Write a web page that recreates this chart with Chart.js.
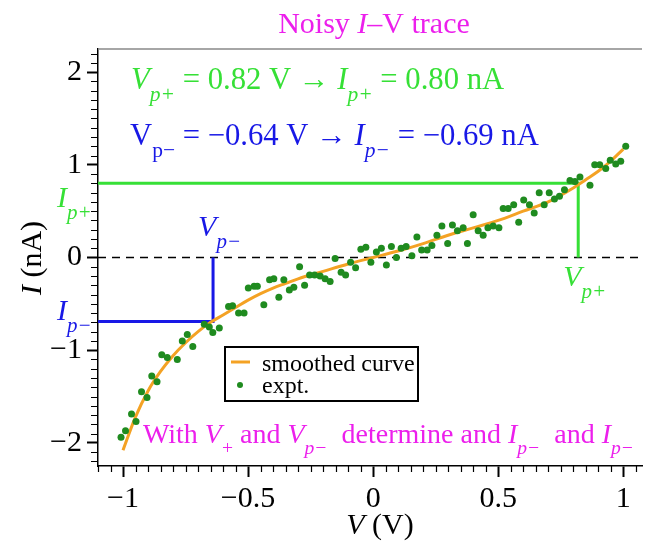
<!DOCTYPE html>
<html>
<head>
<meta charset="utf-8">
<script src="https://cdn.jsdelivr.net/npm/chart.js@4.4.0/dist/chart.umd.min.js"></script>
<style>
  html, body { margin: 0; padding: 0; background: #fff; overflow: hidden; }
  #wrap { position: relative; width: 646px; height: 543px; }
</style>
</head>
<body>
<div id="wrap"><canvas id="ivChart" width="646" height="543"></canvas></div>
<script>
// ── DATA ──────────────────────────────────────────────────────────────
const curveV = [-1.0, -0.95, -0.9, -0.85, -0.8, -0.75, -0.7, -0.65, -0.6, -0.55, -0.5, -0.45, -0.4, -0.35, -0.3,
                -0.2, -0.1, 0, 0.1, 0.2, 0.3, 0.4, 0.5, 0.6, 0.7, 0.8, 0.85, 0.9, 0.95, 1.0];
const curveI = [-2.08, -1.72, -1.44, -1.23, -1.06, -0.92, -0.80, -0.70, -0.62, -0.54, -0.46, -0.39, -0.33, -0.28, -0.23,
                -0.15, -0.07, 0, 0.07, 0.15, 0.24, 0.32, 0.40, 0.50, 0.60, 0.75, 0.84, 0.93, 1.04, 1.17];

const exptV = [-1.008, -0.99, -0.966, -0.948, -0.926, -0.904, -0.885, -0.864, -0.845, -0.823, -0.783, -0.763, -0.743, -0.721,
               -0.675, -0.655, -0.641, -0.615, -0.578, -0.562, -0.538, -0.516, -0.499, -0.476, -0.463, -0.437, -0.414, -0.397,
               -0.377, -0.357, -0.335, -0.317, -0.294, -0.274, -0.254, -0.234, -0.212, -0.192, -0.172, -0.152, -0.128, -0.110,
               -0.09, -0.07, -0.049, -0.029, -0.009, 0.013, 0.033, 0.053, 0.073, 0.093, 0.112, 0.132, 0.155, 0.175, 0.194,
               0.216, 0.235, 0.255, 0.275, 0.298, 0.317, 0.337, 0.36, 0.377, 0.40, 0.42, 0.44, 0.459, 0.48, 0.503, 0.52, 0.54,
               0.562, 0.582, 0.602, 0.625, 0.644, 0.664, 0.684, 0.704, 0.725, 0.745, 0.765, 0.787, 0.807, 0.827, 0.867, 0.886,
               0.906, 0.93, 0.948, 0.97, 0.99, 1.01];
const exptI = [-1.94, -1.87, -1.69, -1.77, -1.45, -1.51, -1.28, -1.34, -1.05, -1.08, -1.10, -0.90, -0.83, -0.96,
               -0.72, -0.75, -0.81, -0.76, -0.53, -0.52, -0.60, -0.60, -0.33, -0.31, -0.31, -0.51, -0.24, -0.23,
               -0.43, -0.24, -0.35, -0.32, -0.10, -0.30, -0.19, -0.19, -0.20, -0.23, -0.26, -0.01, -0.16, -0.19,
               -0.05, -0.11, 0.09, 0.11, -0.05, 0.06, 0.10, -0.08, 0.12, 0.00, 0.10, 0.12, 0.02, 0.22, 0.08,
               0.08, 0.13, 0.24, 0.34, 0.15, 0.35, 0.29, 0.32, 0.15, 0.46, 0.29, 0.24, 0.32, 0.34, 0.32, 0.53, 0.53,
               0.57, 0.38, 0.62, 0.57, 0.48, 0.70, 0.57, 0.70, 0.63, 0.66, 0.73, 0.83, 0.82, 0.87, 0.78, 1.00,
               1.00, 0.96, 1.05, 1.01, 1.04, 1.20];

const xTicks = [-1, -0.5, 0, 0.5, 1];
const yTicks = [-2, -1, 0, 1, 2];

const vpPlus = 0.82, ipPlus = 0.80;
const vpMinus = -0.64, ipMinus = -0.69;

const xMin = -1.1, xMax = 1.075, yMin = -2.25, yMax = 2.25;

// ── STYLE ─────────────────────────────────────────────────────────────
const SERIF = '"Liberation Serif", "Times New Roman", serif';
const GREEN = '#36e036', BLUE = '#1818e6', MAGENTA = '#ec1fec', ORANGE = '#f4a224', DOT = '#1f8b1f';
const MINUS = '\u2212';

function fmtTick(v) {
  return v < 0 ? MINUS + Math.abs(v) : String(v);
}
function fmtNum(v) {
  return (v < 0 ? MINUS : '') + Math.abs(v).toFixed(2);
}

// rich text: parts = [[text, style]], style 'i' italic, 's' subscript
function partFont(p, size) {
  const st = p[1] || '';
  const sz = st.includes('s') ? size * 0.7 : size;
  return (st.includes('i') ? 'italic ' : '') + sz + 'px ' + SERIF;
}
function richWidth(ctx, parts, size) {
  let w = 0;
  parts.forEach(p => { ctx.font = partFont(p, size); w += ctx.measureText(p[0]).width; });
  return w;
}
function drawRich(ctx, parts, x, y, size, color, align) {
  ctx.save();
  ctx.fillStyle = color;
  ctx.textBaseline = 'alphabetic';
  ctx.textAlign = 'left';
  let cx = x;
  const w = richWidth(ctx, parts, size);
  if (align === 'center') cx -= w / 2;
  if (align === 'right') cx -= w;
  parts.forEach(p => {
    const st = p[1] || '';
    ctx.font = partFont(p, size);
    ctx.fillText(p[0], cx, y + (st.includes('s') ? size * 0.4 : 0));
    cx += ctx.measureText(p[0]).width;
  });
  ctx.restore();
}

const decor = {
  id: 'decor',
  afterDraw(chart) {
    const { ctx, chartArea: a, scales: { x, y } } = chart;

    // top frame line
    ctx.save();
    ctx.strokeStyle = '#888';
    ctx.lineWidth = 1.5;
    ctx.beginPath();
    ctx.moveTo(a.left, a.top);
    ctx.lineTo(a.right, a.top);
    ctx.stroke();

    // minor ticks
    ctx.strokeStyle = '#000';
    ctx.lineWidth = 1.2;
    ctx.beginPath();
    for (let k = -22; k <= 22; k++) {
      const v = k * 0.05;
      if (v < xMin - 1e-9 || v > xMax) continue;
      if (Math.abs(v * 2 - Math.round(v * 2)) < 1e-9) continue;
      const px = Math.round(x.getPixelForValue(v)) + 0.5;
      ctx.moveTo(px, a.bottom);
      ctx.lineTo(px, a.bottom + 6);
    }
    for (let k = -22; k <= 22; k++) {
      const v = k * 0.1;
      if (Math.abs(v - Math.round(v)) < 1e-9) continue;
      const py = Math.round(y.getPixelForValue(v)) + 0.5;
      ctx.moveTo(a.left, py);
      ctx.lineTo(a.left - 7, py);
    }
    ctx.stroke();
    ctx.restore();

    // title
    drawRich(ctx, [['Noisy ', ''], ['I', 'i'], ['\u2013V trace', '']], 374, 33, 30, MAGENTA, 'center');

    // result lines
    drawRich(ctx, [['V', 'i'], ['p+', 'si'], [' = ' + fmtNum(vpPlus) + ' V \u2192 ', ''], ['I', 'i'], ['p+', 'si'],
                   [' = ' + fmtNum(ipPlus) + ' nA', '']], 131, 89, 30.7, GREEN, 'left');
    drawRich(ctx, [['V', ''], ['p' + MINUS, 's'], [' = ' + fmtNum(vpMinus) + ' V \u2192 ', ''], ['I', 'i'], ['p' + MINUS, 'si'],
                   [' = ' + fmtNum(ipMinus) + ' nA', '']], 130, 145, 30.7, BLUE, 'left');

    // marker labels
    const xp = x.getPixelForValue(vpPlus), xm = x.getPixelForValue(vpMinus);
    const yp = y.getPixelForValue(ipPlus), ym = y.getPixelForValue(ipMinus), y0 = y.getPixelForValue(0);
    drawRich(ctx, [['I', 'i'], ['p+', 'si']], 57, yp + 24, 30, GREEN, 'left');
    drawRich(ctx, [['I', 'i'], ['p' + MINUS, 'si']], 57, ym - 1, 30, BLUE, 'left');
    drawRich(ctx, [['V', 'i'], ['p' + MINUS, 'si']], xm - 15, y0 - 22, 30, BLUE, 'left');
    drawRich(ctx, [['V', 'i'], ['p+', 'si']], xp - 15, y0 + 28, 30, GREEN, 'left');

    // bottom note
    drawRich(ctx, [['With ', ''], ['V', 'i'], ['+', 's'], [' and ', ''], ['V', 'i'], ['p' + MINUS, 'si'],
                   ['  determine and ', ''], ['I', 'i'], ['p' + MINUS, 'si'], ['  and ', ''], ['I', 'i'], ['p' + MINUS, 'si']],
             143, 443, 28, MAGENTA, 'left');

    // axis titles
    drawRich(ctx, [['V', 'i'], [' (V)', '']], 380, 534, 30, '#000', 'center');
    ctx.save();
    ctx.translate(41, 258);
    ctx.rotate(-Math.PI / 2);
    drawRich(ctx, [['I', 'i'], [' (nA)', '']], 0, 0, 30, '#000', 'center');
    ctx.restore();

    // legend
    const ds = chart.data.datasets;
    ctx.save();
    ctx.fillStyle = '#fff';
    ctx.fillRect(225, 347, 193, 54);
    ctx.strokeStyle = '#000';
    ctx.lineWidth = 2;
    ctx.strokeRect(225, 347, 193, 54);
    ctx.strokeStyle = ds[1].borderColor;
    ctx.lineWidth = 3;
    ctx.beginPath();
    ctx.moveTo(231, 362);
    ctx.lineTo(250, 362);
    ctx.stroke();
    ctx.fillStyle = ds[0].backgroundColor;
    ctx.beginPath();
    ctx.arc(240, 385, 3, 0, Math.PI * 2);
    ctx.fill();
    ctx.restore();
    drawRich(ctx, [[ds[1].label, '']], 262, 371, 24, '#000', 'left');
    drawRich(ctx, [[ds[0].label, '']], 262, 393, 24, '#000', 'left');
  }
};

const axisBase = {
  type: 'linear',
  grid: { drawOnChartArea: false, drawTicks: true, tickLength: 11, tickColor: '#000', tickWidth: 2 },
  border: { display: true, color: '#000', width: 1.5 },
};

new Chart(document.getElementById('ivChart'), {
  type: 'scatter',
  data: {
    datasets: [
      {
        label: 'expt.',
        data: exptV.map((v, i) => ({ x: v, y: exptI[i] })),
        backgroundColor: DOT, borderColor: DOT,
        pointRadius: 3.5, pointBorderWidth: 0, showLine: false, order: 0
      },
      {
        label: 'smoothed curve',
        data: curveV.map((v, i) => ({ x: v, y: curveI[i] })),
        borderColor: ORANGE, borderWidth: 3, pointRadius: 0,
        showLine: true, cubicInterpolationMode: 'monotone', order: 1
      },
      {
        label: 'Vp+',
        data: [{ x: xMin, y: ipPlus }, { x: vpPlus, y: ipPlus }, { x: vpPlus, y: 0 }],
        borderColor: GREEN, borderWidth: 3, pointRadius: 0, showLine: true, order: 2
      },
      {
        label: 'Vp-',
        data: [{ x: xMin, y: ipMinus }, { x: vpMinus, y: ipMinus }, { x: vpMinus, y: 0 }],
        borderColor: BLUE, borderWidth: 3, pointRadius: 0, showLine: true, order: 2
      },
      {
        label: 'zero',
        data: [{ x: xMin, y: 0 }, { x: xMax, y: 0 }],
        borderColor: '#000', borderWidth: 1.5, borderDash: [8, 6], pointRadius: 0, showLine: true, order: 3
      }
    ]
  },
  options: {
    responsive: false,
    devicePixelRatio: 1,
    animation: false,
    events: [],
    layout: { padding: { top: 49, left: 0, right: 0, bottom: 0 } },
    plugins: { legend: { display: false }, tooltip: { enabled: false }, title: { display: false } },
    scales: {
      x: {
        ...axisBase,
        min: xMin, max: xMax,
        afterBuildTicks: s => { s.ticks = xTicks.map(v => ({ value: v })); },
        afterFit: s => { s.height = 77; },
        ticks: { color: '#000', font: { family: SERIF, size: 30 }, padding: 4, maxRotation: 0, autoSkip: false, callback: fmtTick }
      },
      y: {
        ...axisBase,
        min: yMin, max: yMax,
        afterBuildTicks: s => { s.ticks = yTicks.map(v => ({ value: v })); },
        afterFit: s => { s.width = 98; },
        ticks: { color: '#000', font: { family: SERIF, size: 30 }, padding: 5, autoSkip: false, callback: fmtTick }
      }
    }
  },
  plugins: [decor]
});
</script>
</body>
</html>
